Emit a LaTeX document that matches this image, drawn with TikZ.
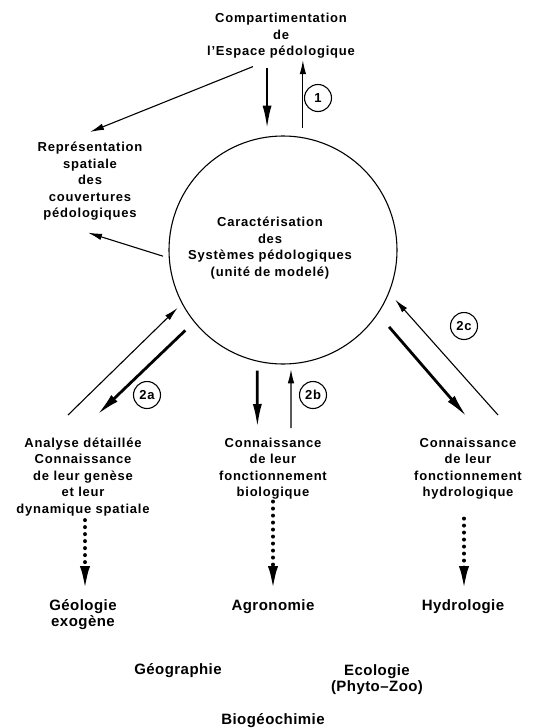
\documentclass[tikz,border=0pt]{standalone}
\usepackage{fontspec}
\setmainfont{Liberation Sans}[LetterSpace=6]
\newfontfamily\tgtfont{Liberation Sans}[LetterSpace=3]
\usepackage{tikz}
\usetikzlibrary{arrows.meta}

\begin{document}
\begin{tikzpicture}[x=1pt, y=-1pt,
    every node/.style={inner sep=0pt},
    txt/.style={align=center, anchor=north, font=\fontsize{13}{16.5}\selectfont\bfseries},
    tgt/.style={align=center, anchor=north, font=\tgtfont\fontsize{15}{16.5}\selectfont\bfseries},
    sysc/.style={circle, draw, line width=1.1pt, minimum size=228pt},
    tag/.style={circle, draw, line width=1.1pt, minimum size=27pt, font=\fontsize{13}{13}\selectfont\bfseries},
    thickarr/.style={line width=2.8pt, -{Latex[length=24pt 0,width=9pt 0]}},
    thinarr/.style={line width=1.1pt, -{Latex[length=14pt 0,width=6.5pt 0]}},
    dotarr/.style={line width=4pt, line cap=round, dash pattern=on 0pt off 7pt, -{Latex[length=26pt 0,width=10pt 0]}}
]
\useasboundingbox (0,0) rectangle (542,728);

% Central system
\node[sysc] (sys) at (283,250) {};
\node[txt] (sysl) at (270,217) {Caractérisation\\des\\Systèmes pédologiques\\(unité de modelé)};

% Top: compartimentation and spatial representation
\node[txt] (comp) at (281,13) {Compartimentation\\de\\l’Espace pédologique};
\node[txt] (rep) at (90,142) {Représentation\\spatiale\\des\\couvertures\\pédologiques};
\node[tag] (t1) at (318,98) {1};

\draw[thickarr, shorten >=7pt] (sys.98) ++(0,-69) -- (sys.98);
\draw[thinarr, shorten <=9pt] (sys.80) -- ++(0,-77);
\draw[thinarr] ([shift={(-28,8)}]comp.south) -- ([shift={(0,-10)}]rep.north);
\draw[thinarr, shorten <=6pt] (sys.184) -- ([shift={(-2,12)}]rep.south);

% Bottom: three kinds of knowledge
\node[txt] (ana) at (83,437.5) {Analyse détaillée\\Connaissance\\de leur genèse\\et leur\\dynamique spatiale};
\node[txt] (bio) at (273,437.5) {Connaissance\\de leur\\fonctionnement\\biologique};
\node[txt] (hyd) at (468,437.5) {Connaissance\\de leur\\fonctionnement\\hydrologique};
\node[tag] (t2a) at (147,395) {2a};
\node[tag] (t2b) at (313,395) {2b};
\node[tag] (t2c) at (464,326) {2c};

\draw[thinarr, shorten >=6pt] ([shift={(-15,-22.5)}]ana.north) -- (sys.208);
\draw[thickarr, shorten <=12pt] (sys.219) -- ([shift={(14,-22.5)}]ana.north);
\draw[thickarr, shorten <=9pt] (sys.257) -- ([shift={(-15.6,-9.5)}]bio.north);
\draw[thinarr, shorten >=5pt] ([shift={(18,-9.5)}]bio.north) -- (sys.274);
\draw[thinarr, shorten >=9pt] ([shift={(30,-22.5)}]hyd.north) -- (sys.338);
\draw[thickarr, shorten <=17pt] (sys.326) -- ([shift={(-1,-20.5)}]hyd.north);

% Disciplines
\node[tgt] (geo) at (83,599) {Géologie\\exogène};
\node[tgt] (agro) at (273,599) {Agronomie};
\node[tgt] (hydro) at (463,599) {Hydrologie};
\node[tgt] (geog) at (178,663) {Géographie};
\node[tgt] (eco) at (377,664) {Ecologie\\(Phyto–Zoo)};
\node[tgt] (bgc) at (273,713) {Biogéochimie};

\draw[dotarr, shorten <=4pt, shorten >=7pt] ([xshift=2pt]ana.south) -- ([xshift=2pt]ana.south |- geo.north);
\draw[dotarr, shorten <=2pt, shorten >=7pt] (bio.south) -- (bio.south |- agro.north);
\draw[dotarr, shorten <=19pt, shorten >=7pt] ([xshift=-4pt]hyd.south) -- ([xshift=-4pt]hyd.south |- hydro.north);

\end{tikzpicture}
\end{document}
